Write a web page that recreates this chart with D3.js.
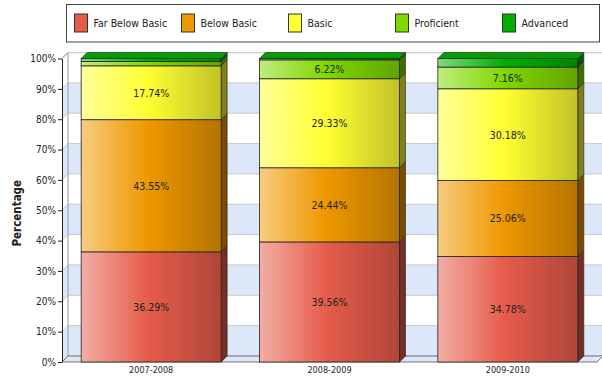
<!DOCTYPE html>
<html>
<head>
<meta charset="utf-8">
<script src="https://cdn.jsdelivr.net/npm/d3@7"></script>
<style>
  html, body { margin: 0; padding: 0; background: #fff; }
  svg { display: block; font-family: "DejaVu Sans Condensed", "DejaVu Sans", sans-serif; }
</style>
</head>
<body>
<svg id="chart" width="602" height="377"></svg>
<script>
// Performance levels by school year (percent of students)
const categories = ["2007-2008", "2008-2009", "2009-2010"];
const seriesNames = ["Far Below Basic", "Below Basic", "Basic", "Proficient", "Advanced"];
const seriesColors = ["#e65c4b", "#ee9800", "#ffff33", "#80d800", "#00b000"];
const farBelowBasic = [36.29, 39.56, 34.78];
const belowBasic = [43.55, 24.44, 25.06];
const basic = [17.74, 29.33, 30.18];
const proficient = [1.42, 6.22, 7.16];
const advanced = [1.00, 0.45, 2.82];
const yTicks = [0, 10, 20, 30, 40, 50, 60, 70, 80, 90, 100];

const seriesValues = [farBelowBasic, belowBasic, basic, proficient, advanced];
const rows = categories.map((c, i) => {
  const r = { category: c };
  seriesNames.forEach((s, k) => { r[s] = seriesValues[k][i]; });
  return r;
});

const svg = d3.select("#chart");
const depth = 6;           // 3D offset of the walls and bars
const plotLeft = 62, plotRight = 597, plotBottom = 362, plotTop = 58.5;

const x = d3.scaleBand().domain(categories).range([plotLeft, plotRight])
  .paddingInner(0.215).paddingOuter(0.1075);
const y = d3.scaleLinear().domain([0, 100]).range([plotBottom, plotTop]);

const stack = d3.stack().keys(seriesNames);
const layers = stack(rows);

// gradients for the bar fronts
const defs = svg.append("defs");
seriesNames.forEach((s, k) => {
  const base = seriesColors[k];
  const g = defs.append("linearGradient").attr("id", "grad" + k)
    .attr("x1", 0).attr("x2", 1).attr("y1", 0).attr("y2", 0);
  g.append("stop").attr("offset", 0).attr("stop-color", d3.interpolateRgb(base, "#fff")(0.5));
  g.append("stop").attr("offset", 0.47).attr("stop-color", base);
  g.append("stop").attr("offset", 1).attr("stop-color", d3.interpolateRgb(base, "#000")(0.24));
});

// ---- back wall with alternating bands ----
const wall = svg.append("g");
const backL = plotLeft + depth, backR = plotRight + depth;
yTicks.slice(0, -1).forEach((t, i) => {
  const y0 = y(t) - depth, y1 = y(t + 10) - depth;
  wall.append("rect").attr("x", backL).attr("y", y1).attr("width", backR - backL).attr("height", y0 - y1)
    .attr("fill", i % 2 === 0 ? "#dce8fa" : "#ffffff");
  // matching band on the left side wall
  wall.append("path")
    .attr("d", `M${plotLeft},${y(t)}L${backL},${y0}L${backL},${y1}L${plotLeft},${y(t + 10)}Z`)
    .attr("fill", i % 2 === 0 ? "#dce8fa" : "#ffffff");
});
yTicks.forEach(t => {
  wall.append("line").attr("x1", backL).attr("x2", backR)
    .attr("y1", y(t) - depth).attr("y2", y(t) - depth)
    .attr("stroke", "#c8c8c8").attr("stroke-width", 1);
  wall.append("line").attr("x1", plotLeft).attr("x2", backL)
    .attr("y1", y(t)).attr("y2", y(t) - depth)
    .attr("stroke", "#c8c8c8").attr("stroke-width", 1);
});
// wall outlines
wall.append("path")
  .attr("d", `M${plotLeft},${y(100)}L${backL},${y(100) - depth}L${backL},${y(0) - depth}`)
  .attr("fill", "none").attr("stroke", "#999").attr("stroke-width", 1);
wall.append("line").attr("x1", backR - 0.5).attr("x2", backR - 0.5)
  .attr("y1", y(100) - depth).attr("y2", y(0) - depth)
  .attr("stroke", "#999");
wall.append("line").attr("x1", backL).attr("x2", backR)
  .attr("y1", y(100) - depth + 0.5).attr("y2", y(100) - depth + 0.5)
  .attr("stroke", "#ddd");

// floor
svg.append("path")
  .attr("d", `M${plotLeft},${plotBottom}L${backL},${plotBottom - depth}L${backR},${plotBottom - depth}L${plotRight},${plotBottom}Z`)
  .attr("fill", "#dce8fa").attr("stroke", "#555").attr("stroke-width", 0.8);

// ---- bars ----
const bars = svg.append("g");
const bw = x.bandwidth();
categories.forEach((c, i) => {
  const g = bars.append("g");
  layers.forEach((layer, k) => {
    const d = layer[i];
    const v = d[1] - d[0];
    if (v <= 0) return;
    const x0 = x(c), x1 = x0 + bw;
    const yb = y(d[0]), yt = y(d[1]);
    const base = seriesColors[k];
    // side face
    g.append("path")
      .attr("d", `M${x1},${yb}L${x1 + depth},${yb - depth}L${x1 + depth},${yt - depth}L${x1},${yt}Z`)
      .attr("fill", d3.interpolateRgb(base, "#000")(0.5))
      .attr("stroke", "#222").attr("stroke-width", 0.6);
    // front face
    g.append("rect").attr("x", x0).attr("y", yt).attr("width", bw).attr("height", yb - yt)
      .attr("fill", `url(#grad${k})`)
      .attr("stroke", "#222").attr("stroke-width", 0.8);
    // top face on the highest segment
    if (k === layers.length - 1) {
      g.append("path")
        .attr("d", `M${x0},${yt}L${x0 + depth},${yt - depth}L${x1 + depth},${yt - depth}L${x1},${yt}Z`)
        .attr("fill", d3.interpolateRgb(base, "#000")(0.1))
        .attr("stroke", "#222").attr("stroke-width", 0.6);
    }
    if (v >= 5) {
      g.append("text")
        .attr("x", x0 + bw / 2).attr("y", (yb + yt) / 2)
        .attr("text-anchor", "middle").attr("dominant-baseline", "central")
        .attr("font-size", "10.5px").attr("fill", "#222")
        .text(v.toFixed(2) + "%");
    }
  });
});

// ---- axes ----
const yAxis = d3.axisLeft(y).tickValues(yTicks).tickFormat(d => d + "%")
  .tickSizeInner(4).tickSizeOuter(0);
const ya = svg.append("g").attr("transform", `translate(${plotLeft},0)`).call(yAxis);
ya.select(".domain").attr("stroke", "#222");
ya.selectAll(".tick line").attr("stroke", "#222");
ya.selectAll(".tick text").attr("font-size", "10px").attr("fill", "#222")
  .attr("font-family", "DejaVu Sans Condensed, DejaVu Sans, sans-serif").attr("x", -6);

const xAxis = d3.axisBottom(x).tickSize(0);
const xa = svg.append("g").attr("transform", `translate(0,${plotBottom})`).call(xAxis);
xa.select(".domain").remove();
xa.selectAll(".tick text").attr("font-size", "9px").attr("fill", "#222").attr("dy", "0.9em")
  .attr("font-family", "DejaVu Sans Condensed, DejaVu Sans, sans-serif");

svg.append("text")
  .attr("transform", `translate(21,${(plotTop + plotBottom) / 2 + 3}) rotate(-90)`)
  .attr("text-anchor", "middle")
  .attr("font-size", "11.5px").attr("font-weight", "bold").attr("fill", "#222")
  .text("Percentage");

// ---- legend ----
const legend = svg.append("g");
legend.append("rect").attr("x", 66.5).attr("y", 4.5).attr("width", 533).attr("height", 37.5)
  .attr("fill", "#fff").attr("stroke", "#444");
const legendX = d3.scalePoint().domain(seriesNames).range([74.5, 502.5]);
seriesNames.forEach((s, k) => {
  const lx = legendX(s);
  legend.append("rect").attr("x", lx).attr("y", 14).attr("width", 13).attr("height", 18)
    .attr("fill", seriesColors[k]).attr("stroke", "#333");
  legend.append("text").attr("x", lx + 19).attr("y", 23)
    .attr("dominant-baseline", "central").attr("font-size", "10.5px").attr("fill", "#222")
    .text(s);
});
</script>
</body>
</html>
